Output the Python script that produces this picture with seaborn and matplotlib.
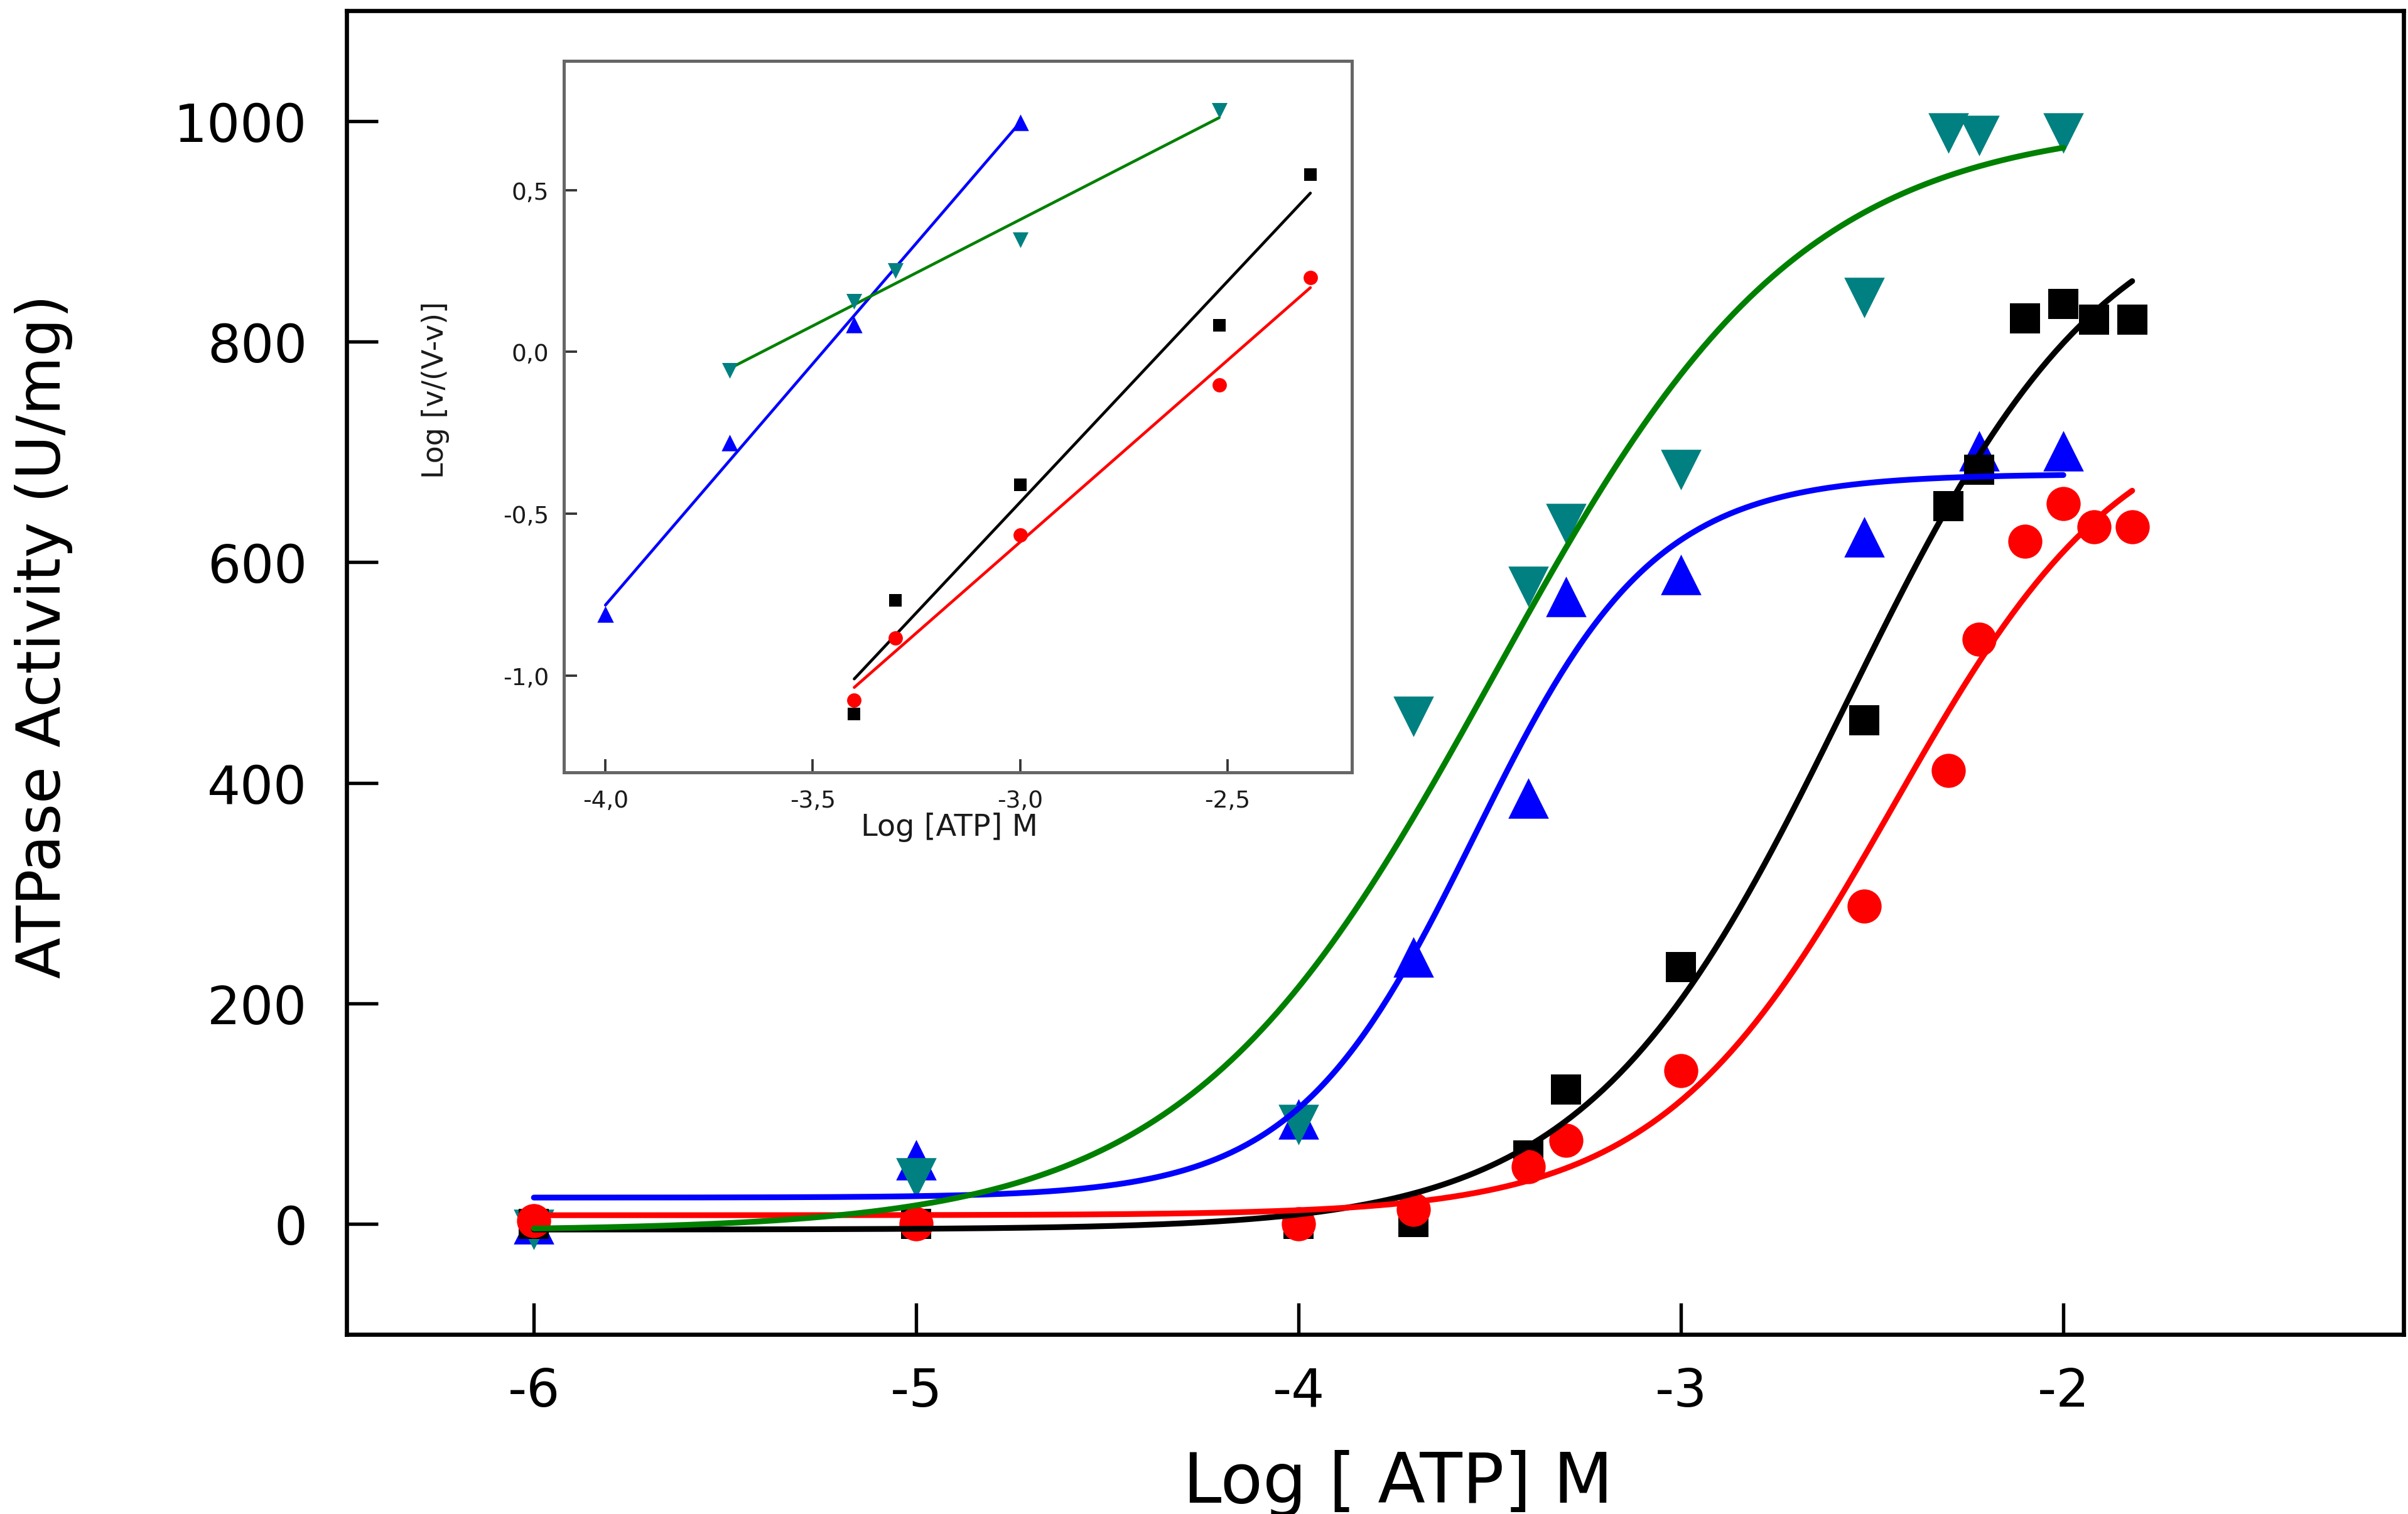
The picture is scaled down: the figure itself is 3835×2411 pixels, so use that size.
import numpy as np
import seaborn as sns
import matplotlib.pyplot as plt
from matplotlib.ticker import FuncFormatter

sns.set_style('ticks')
plt.rcParams['font.family'] = ['DejaVu Sans']
plt.rcParams['axes.unicode_minus'] = False
plt.rcParams['text.color'] = 'black'
plt.rcParams['axes.labelcolor'] = 'black'

# main panel data, x is log [ATP] (M)
log_atp = [-6, -5, -4, -3.7, -3.4, -3.3, -3.0, -2.52, -2.3, -2.22, -2.1, -2.0, -1.92, -1.82]
black_y = [0, 0, 0, 2, 62, 122, 233, 457, 651, 684, 821, 834, 820, 820]
red_y = [3, 0, 0, 13, 52, 76, 139, 288, 411, 530, 619, 653, 632, 632]

blue_x = [-6, -5, -4, -3.7, -3.4, -3.3, -3.0, -2.52, -2.22, -2.0]
blue_y = [0, 58, 95, 242, 386, 569, 589, 623, 701, 701]

teal_x = [-6, -5, -4, -3.7, -3.4, -3.3, -3.0, -2.52, -2.3, -2.22, -2.0]
teal_y = [-5, 42, 90, 460, 578, 635, 684, 840, 989, 987, 989]

# sigmoid fits: bottom, top, log EC50, hill slope, last x
black_fit = [-5, 950, -2.567, 1.28, -1.82]
red_fit = [8, 750, -2.445, 1.42, -1.82]
blue_fit = [24, 680, -3.54, 1.85, -2.0]
green_fit = [-6, 1000, -3.49, 1.08, -2.0]

# inset (Hill plot) data
ins_blue_x = [-4.0, -3.7, -3.4, -3.0]
ins_blue_y = [-0.81, -0.28, 0.085, 0.71]
ins_teal_x = [-3.7, -3.4, -3.3, -3.0, -2.52]
ins_teal_y = [-0.058, 0.156, 0.251, 0.346, 0.746]
ins_black_x = [-3.4, -3.3, -3.0, -2.52, -2.3]
ins_black_y = [-1.12, -0.768, -0.411, 0.082, 0.549]
ins_red_x = [-3.4, -3.3, -3.0, -2.52, -2.3]
ins_red_y = [-1.077, -0.885, -0.565, -0.102, 0.23]


def hill(p):
    b, t, L, n, xend = p
    xs = np.linspace(-6, xend, 400)
    return xs, b + (t - b) / (1 + 10 ** (n * (L - xs)))


fig = plt.figure(figsize=(3835 / 300, 2412 / 300), dpi=300)
ax = fig.add_axes([0.1439, 0.1186, 0.8543, 0.8739])

# markers
sns.scatterplot(x=blue_x, y=blue_y, marker='^', s=240, color='#0000ff', linewidth=0, ax=ax, zorder=3)
sns.scatterplot(x=teal_x, y=teal_y, marker='v', s=240, color='#008080', linewidth=0, ax=ax, zorder=3)
sns.scatterplot(x=log_atp, y=black_y, marker='s', s=128, color='black', linewidth=0, ax=ax, zorder=3)
sns.scatterplot(x=log_atp, y=red_y, marker='o', s=170, color='#ff0000', linewidth=0, ax=ax, zorder=3)

# fitted curves
for p, c in [(black_fit, 'black'), (red_fit, '#ff0000'), (blue_fit, '#0000ff'), (green_fit, '#008000')]:
    xs, ys = hill(p)
    sns.lineplot(x=xs, y=ys, color=c, lw=2.2, ax=ax, zorder=4)

ax.set_xlim(-6.49, -1.11)
ax.set_ylim(-100, 1100)
ax.set_xticks([-6, -5, -4, -3, -2])
ax.set_yticks([0, 200, 400, 600, 800, 1000])
ax.tick_params(direction='in', length=12, width=1.3, labelsize=20, color='black', labelcolor='black')
ax.tick_params(axis='y', pad=15)
ax.tick_params(axis='x', pad=12)
for s in ax.spines.values():
    s.set_linewidth(1.6)
    s.set_color('black')

ax.set_xlabel('Log [ ATP] M', fontsize=26.5, color='black')
ax.xaxis.set_label_coords(0.511, -0.087)
ax.set_ylabel('ATPase Activity (U/mg)', fontsize=23, color='black')
ax.yaxis.set_label_coords(-0.133, 0.528)

# inset
axi = fig.add_axes([0.2342, 0.4896, 0.3272, 0.4698])
axi.set_facecolor('white')
sns.regplot(x=ins_blue_x, y=ins_blue_y, ci=None, scatter=False, color='#0000ff', line_kws={'lw': 1.1}, ax=axi)
sns.regplot(x=ins_teal_x, y=ins_teal_y, ci=None, scatter=False, color='#008000', line_kws={'lw': 1.1}, ax=axi)
sns.regplot(x=ins_black_x, y=ins_black_y, ci=None, scatter=False, color='black', line_kws={'lw': 1.1}, ax=axi)
sns.regplot(x=ins_red_x, y=ins_red_y, ci=None, scatter=False, color='#ff0000', line_kws={'lw': 1.1}, ax=axi)
sns.scatterplot(x=ins_blue_x, y=ins_blue_y, marker='^', s=40, color='#0000ff', linewidth=0, ax=axi, zorder=3)
sns.scatterplot(x=ins_teal_x, y=ins_teal_y, marker='v', s=36, color='#008080', linewidth=0, ax=axi, zorder=3)
sns.scatterplot(x=ins_black_x, y=ins_black_y, marker='s', s=22, color='black', linewidth=0, ax=axi, zorder=3)
sns.scatterplot(x=ins_red_x, y=ins_red_y, marker='o', s=30, color='#ff0000', linewidth=0, ax=axi, zorder=3)

axi.set_xlim(-4.1, -2.2)
axi.set_ylim(-1.3, 0.9)
axi.set_xticks([-4.0, -3.5, -3.0, -2.5])
axi.set_yticks([-1.0, -0.5, 0.0, 0.5])
comma = FuncFormatter(lambda v, pos: f'{v:.1f}'.replace('.', ','))
axi.xaxis.set_major_formatter(comma)
axi.yaxis.set_major_formatter(comma)
axi.tick_params(direction='in', length=5, width=0.9, labelsize=9, color='#333333', labelcolor='#1a1a1a')
axi.tick_params(axis='x', pad=6.5)
axi.tick_params(axis='y', pad=5.8)
for s in axi.spines.values():
    s.set_linewidth(1.2)
    s.set_color('#666666')
axi.set_xlabel('Log [ATP] M', fontsize=11.5, color='#1a1a1a')
axi.xaxis.set_label_coords(0.489, -0.0557)
axi.set_ylabel('Log [v/(V-v)]', fontsize=11, color='#1a1a1a')
axi.yaxis.set_label_coords(-0.145, 0.538)

fig.savefig('out.png', dpi=300)
